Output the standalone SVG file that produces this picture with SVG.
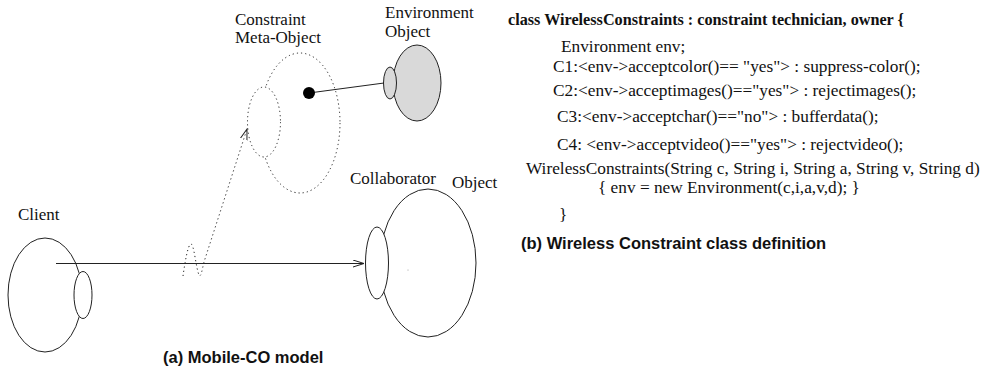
<svg xmlns="http://www.w3.org/2000/svg" width="983" height="374" viewBox="0 0 983 374">
<style>
.s{fill:none;stroke:#222;stroke-width:1}
.w{fill:#fff;stroke:#222;stroke-width:1}
.g{fill:#d9d9d9;stroke:#222;stroke-width:1}
.d{fill:#fff;stroke:#222;stroke-width:1;stroke-dasharray:1.2 3}
.dl{fill:none;stroke:#222;stroke-width:1;stroke-dasharray:1.2 3}
.t{font-family:"Liberation Serif","Times New Roman",serif;font-size:17px;fill:#111}
.c{font-family:"Liberation Serif","Times New Roman",serif;font-size:17.3px;fill:#111}
.cb{font-family:"Liberation Serif","Times New Roman",serif;font-size:16.2px;font-weight:bold;fill:#111}
.cap{font-family:"Liberation Sans",Arial,sans-serif;font-size:16.5px;font-weight:bold;fill:#111}
</style>
<defs>
<marker id="oa" markerUnits="userSpaceOnUse" markerWidth="12" markerHeight="10" refX="11" refY="4" orient="auto">
<path d="M0,0.5 L11,4 L0,7.5" fill="none" stroke="#222" stroke-width="1"/>
</marker>
</defs>
<g id="client">
<ellipse class="w" cx="45" cy="295" rx="37" ry="57"/>
<ellipse class="w" cx="83" cy="295" rx="9" ry="23.5"/>
<text class="t" x="18" y="220">Client</text>
</g>
<g id="collaborator">
<ellipse class="w" cx="428" cy="263" rx="48" ry="74"/>
<ellipse class="w" cx="377" cy="263" rx="11.5" ry="36"/>
<circle cx="408" cy="270" r="0.5" fill="#888"/>
<text class="t" x="350" y="184">Collaborator</text>
<text class="t" x="452" y="188">Object</text>
</g>
<g id="constraint-meta-object">
<ellipse class="d" cx="300" cy="123" rx="40" ry="70"/>
<ellipse class="d" cx="264" cy="122" rx="16.5" ry="35"/>
<text class="t" x="235" y="25">Constraint</text>
<text class="t" x="235" y="43">Meta-Object</text>
</g>
<g id="environment">
<ellipse class="g" cx="417" cy="83" rx="24" ry="38"/>
<ellipse class="g" cx="390" cy="83" rx="6.5" ry="16"/>
<text class="t" x="385" y="18">Environment</text>
<text class="t" x="385" y="37">Object</text>
</g>
<g id="connectors">
<line class="s" x1="56" y1="263.5" x2="364" y2="263.5" marker-end="url(#oa)"/>
<path class="dl" d="M183,276 C185,262 188,244 191,244 C194,244 196,268 199,275 C201,278 202,270 204,262 L247,129" marker-end="url(#oa)"/>
<line class="s" x1="309" y1="93" x2="384" y2="83"/>
<circle cx="309" cy="93" r="6" fill="#000"/>
</g>
<text class="cap" x="163" y="363">(a) Mobile-CO model</text>
<g id="class-definition">
<text class="cb" x="508" y="25">class WirelessConstraints : constraint technician, owner {</text>
<text class="c" x="561" y="52">Environment env;</text>
<text class="c" x="553" y="72">C1:&lt;env-&gt;acceptcolor()== "yes"&gt; : suppress-color();</text>
<text class="c" x="553" y="96">C2:&lt;env-&gt;acceptimages()=="yes"&gt; : rejectimages();</text>
<text class="c" x="557" y="122">C3:&lt;env-&gt;acceptchar()=="no"&gt; : bufferdata();</text>
<text class="c" x="557" y="150">C4: &lt;env-&gt;acceptvideo()=="yes"&gt; : rejectvideo();</text>
<text class="c" x="526" y="174">WirelessConstraints(String c, String i, String a, String v, String d)</text>
<text class="c" x="598" y="193">{ env = new Environment(c,i,a,v,d); }</text>
<text class="c" x="559" y="220">}</text>
<text class="cap" x="521" y="249">(b) Wireless Constraint class definition</text>
</g>
</svg>
